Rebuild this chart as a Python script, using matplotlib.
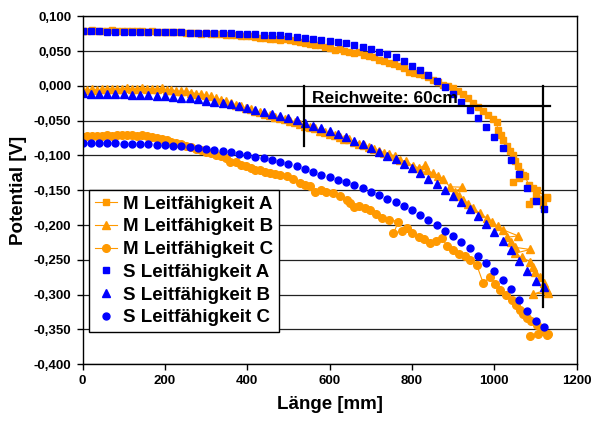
import matplotlib
matplotlib.use("Agg")
import matplotlib.pyplot as plt
from matplotlib.ticker import FuncFormatter, MultipleLocator
import numpy as np

plt.rcParams["font.family"] = ["Liberation Sans", "DejaVu Sans"]
plt.rcParams["font.weight"] = "bold"

ORANGE = "#FF9900"
BLUE = "#0000FF"

# simulation (S): regular 20 mm steps
s_x = np.arange(0, 1121, 20)
s_a = [0.0785, 0.0785, 0.0785, 0.0780, 0.0780, 0.0780, 0.0780, 0.0775, 0.0775, 0.0775,
       0.0770, 0.0770, 0.0770, 0.0765, 0.0765, 0.0760, 0.0760, 0.0755, 0.0755, 0.0750,
       0.0745, 0.0740, 0.0735, 0.0730, 0.0725, 0.0715, 0.0705, 0.0695, 0.0680, 0.0665,
       0.0650, 0.0630, 0.0610, 0.0585, 0.0555, 0.0525, 0.0490, 0.0455, 0.0410, 0.0355,
       0.0290, 0.0230, 0.0155, 0.0070, -0.0010, -0.0110, -0.0225, -0.0340, -0.0455, -0.0590,
       -0.0735, -0.0895, -0.1070, -0.1270, -0.1470, -0.1660, -0.1770]
s_b = [-0.0105, -0.0110, -0.0110, -0.0115, -0.0120, -0.0120, -0.0125, -0.0130, -0.0135, -0.0140,
       -0.0150, -0.0160, -0.0170, -0.0180, -0.0195, -0.0210, -0.0225, -0.0245, -0.0265, -0.0290,
       -0.0315, -0.0340, -0.0370, -0.0400, -0.0430, -0.0460, -0.0490, -0.0530, -0.0570, -0.0610,
       -0.0655, -0.0695, -0.0740, -0.0785, -0.0830, -0.0890, -0.0945, -0.1003, -0.1055, -0.1122,
       -0.1184, -0.1256, -0.1333, -0.1410, -0.1496, -0.1582, -0.1673, -0.1773, -0.1870, -0.1984,
       -0.2104, -0.2224, -0.2358, -0.2511, -0.2655, -0.2799, -0.2894]
s_c = [-0.0816, -0.0817, -0.0819, -0.0821, -0.0824, -0.0828, -0.0832, -0.0837, -0.0842, -0.0848,
       -0.0855, -0.0862, -0.0870, -0.0880, -0.0892, -0.0905, -0.0920, -0.0937, -0.0955, -0.0975,
       -0.0995, -0.1015, -0.1035, -0.1060, -0.1090, -0.1120, -0.1155, -0.1200, -0.1238, -0.1275,
       -0.1312, -0.1350, -0.1385, -0.1425, -0.1470, -0.1520, -0.1570, -0.1620, -0.1673, -0.1726,
       -0.1790, -0.1855, -0.1927, -0.2003, -0.2080, -0.2157, -0.2243, -0.2334, -0.2440, -0.2549,
       -0.2660, -0.2785, -0.2918, -0.3076, -0.3230, -0.3374, -0.3468]

# measurement (M)
m_a_x = [0, 12, 24, 36, 48, 60, 72, 84, 96, 108, 120, 132, 144, 156, 168, 180, 192, 204, 216, 228,
         240, 252, 264, 276, 288, 300, 312, 324, 336, 348, 360, 372, 384, 396, 408, 420, 432, 444,
         456, 468, 480, 492, 504, 516, 528, 540, 552, 564, 576, 588, 600, 612, 624, 636, 648, 660,
         672, 684, 696, 708, 720, 732, 744, 756, 768, 780, 792, 804, 816, 828, 840, 852, 864, 876,
         888, 900, 912, 924, 936, 948, 960, 972, 984, 996, 1006, 1008, 1016, 1022, 1030, 1038, 1046,
         1050, 1058, 1062, 1070, 1046, 1060, 1075, 1083, 1094, 1103, 1127, 1100, 1083, 1095, 1111,
         1119, 1127]
m_a_y = [0.0795, 0.0790, 0.0800, 0.0785, 0.0795, 0.0790, 0.0800, 0.0790, 0.0785, 0.0795,
         0.0790, 0.0785, 0.0790, 0.0780, 0.0785, 0.0780, 0.0775, 0.0780, 0.0770, 0.0775,
         0.0770, 0.0760, 0.0765, 0.0760, 0.0750, 0.0755, 0.0745, 0.0740, 0.0745, 0.0735,
         0.0730, 0.0725, 0.0720, 0.0710, 0.0715, 0.0700, 0.0695, 0.0690, 0.0680, 0.0675,
         0.0665, 0.0670, 0.0660, 0.0640, 0.0630, 0.0615, 0.0600, 0.0585, 0.0590, 0.0560,
         0.0545, 0.0520, 0.0530, 0.0505, 0.0490, 0.0470, 0.0480, 0.0450, 0.0430, 0.0410,
         0.0375, 0.0360, 0.0330, 0.0320, 0.0290, 0.0250, 0.0200, 0.0190, 0.0175, 0.0150,
         0.0130, 0.0090, 0.0050, 0.0020, 0.0000, -0.0035, -0.0070, -0.0110, -0.0180, -0.0240,
         -0.0300, -0.0360, -0.0420, -0.0480, -0.0515, -0.0635, -0.0700, -0.0780, -0.0860, -0.0940,
         -0.0995, -0.1080, -0.1150, -0.1230, -0.1280, -0.1380, -0.1330, -0.1300, -0.1420, -0.1460,
         -0.1500, -0.1600, -0.1570, -0.1690, -0.1650, -0.1640, -0.1710, -0.1615]

m_b_x = [0, 12, 24, 36, 48, 60, 72, 84, 96, 108, 120, 132, 144, 156, 168, 180, 192, 204, 216, 228,
         240, 252, 264, 276, 288, 300, 312, 324, 336, 348, 360, 372, 384, 396, 408, 420, 432, 444,
         456, 468, 480, 492, 504, 516, 528, 540, 552, 564, 576, 588, 600, 612, 624, 636, 648, 660,
         672, 684, 696, 708, 720, 732, 744, 759, 771, 785, 803, 818, 832, 836, 852, 864, 876, 892,
         921, 905, 915, 925, 937, 949, 965, 982, 995, 1008, 1022, 1058, 1030, 1040, 1050, 1087,
         1050, 1066, 1087, 1095, 1099, 1111, 1120, 1127, 1095, 1131]
m_b_y = [-0.0060, -0.0055, -0.0050, -0.0060, -0.0045, -0.0050, -0.0040, -0.0050, -0.0045, -0.0030,
         -0.0050, -0.0040, -0.0025, -0.0045, -0.0040, -0.0050, -0.0035, -0.0055, -0.0060, -0.0070,
         -0.0080, -0.0075, -0.0095, -0.0110, -0.0120, -0.0135, -0.0150, -0.0175, -0.0200, -0.0215,
         -0.0250, -0.0270, -0.0290, -0.0320, -0.0335, -0.0355, -0.0380, -0.0400, -0.0420, -0.0445,
         -0.0465, -0.0480, -0.0505, -0.0525, -0.0545, -0.0570, -0.0595, -0.0610, -0.0645, -0.0660,
         -0.0690, -0.0710, -0.0730, -0.0760, -0.0770, -0.0800, -0.0830, -0.0845, -0.0880, -0.0905,
         -0.0930, -0.0960, -0.0985, -0.1005, -0.1065, -0.1085, -0.1150, -0.1180, -0.1135, -0.1210,
         -0.1255, -0.1290, -0.1340, -0.1450, -0.1455, -0.1520, -0.1580, -0.1640, -0.1700, -0.1760,
         -0.1830, -0.1900, -0.1960, -0.2020, -0.2070, -0.2155, -0.2175, -0.2250, -0.2320, -0.2350,
         -0.2405, -0.2465, -0.2525, -0.2600, -0.2670, -0.2740, -0.2830, -0.2930, -0.2990, -0.2970]

m_c_x = [0, 12, 24, 36, 48, 60, 72, 84, 96, 108, 120, 132, 144, 156, 168, 180, 192, 204, 216, 228,
         240, 252, 264, 276, 288, 300, 312, 324, 336, 348, 358, 372, 384, 396, 408, 420, 432, 444,
         456, 468, 480, 496, 510, 528, 540, 552, 565, 578, 592, 609, 625, 642, 650, 658, 672, 686,
         698, 712, 727, 745, 767, 755, 775, 787, 800, 816, 830, 844, 858, 872, 886, 900, 915, 928,
         941, 957, 973, 990, 1002, 1014, 1028, 1042, 1052, 1062, 1070, 1079, 1090, 1103, 1115, 1127,
         1087, 1105, 1130]
m_c_y = [-0.0730, -0.0725, -0.0720, -0.0725, -0.0715, -0.0710, -0.0720, -0.0705, -0.0710, -0.0700,
         -0.0705, -0.0715, -0.0710, -0.0725, -0.0730, -0.0745, -0.0760, -0.0775, -0.0800, -0.0815,
         -0.0840, -0.0860, -0.0880, -0.0900, -0.0920, -0.0945, -0.0960, -0.0990, -0.1005, -0.1040,
         -0.1090, -0.1100, -0.1130, -0.1150, -0.1180, -0.1210, -0.1215, -0.1240, -0.1250, -0.1270,
         -0.1275, -0.1290, -0.1340, -0.1400, -0.1420, -0.1445, -0.1520, -0.1500, -0.1530, -0.1545,
         -0.1580, -0.1640, -0.1680, -0.1740, -0.1720, -0.1760, -0.1780, -0.1840, -0.1900, -0.1920,
         -0.1950, -0.2120, -0.2080, -0.2045, -0.2110, -0.2165, -0.2200, -0.2260, -0.2230, -0.2190,
         -0.2300, -0.2360, -0.2410, -0.2450, -0.2500, -0.2570, -0.2835, -0.2740, -0.2850, -0.2930,
         -0.3000, -0.3075, -0.3150, -0.3220, -0.3280, -0.3340, -0.3380, -0.3435, -0.3500, -0.3580,
         -0.3600, -0.3560, -0.3570]

labels = ["M Leitfähigkeit A", "M Leitfähigkeit B", "M Leitfähigkeit C",
          "S Leitfähigkeit A", "S Leitfähigkeit B", "S Leitfähigkeit C"]

# range marker (mm / V)
range_text = "Reichweite: 60cm"
range_left_x, range_right_x = 538, 1118
range_y = -0.0284


def comma_fmt(v, pos):
    return f"{v:.3f}".replace(".", ",")


fig = plt.figure(figsize=(5.92, 4.21), dpi=100)
ax = fig.add_axes([0.1394, 0.1347, 0.8348, 0.8266])

ax.yaxis.grid(True, color="#222222", lw=0.9)
ax.set_axisbelow(True)

ax.plot(m_a_x, m_a_y, color=ORANGE, lw=0.8, marker="s", ms=5, mec=ORANGE, label=labels[0])
ax.plot(m_b_x, m_b_y, color=ORANGE, lw=0.8, marker="^", ms=5.5, mec=ORANGE, label=labels[1])
ax.plot(m_c_x, m_c_y, color=ORANGE, lw=0.8, marker="o", ms=5.5, mec=ORANGE, label=labels[2])
ax.plot(s_x, s_a, ls="none", color=BLUE, marker="s", ms=4.5, label=labels[3])
ax.plot(s_x, s_b, ls="none", color=BLUE, marker="^", ms=5.5, label=labels[4])
ax.plot(s_x, s_c, ls="none", color=BLUE, marker="o", ms=5, label=labels[5])

# Reichweite annotation
ax.plot([range_left_x, range_left_x], [0.0, -0.087], color="black", lw=1.6, zorder=5)
ax.plot([range_right_x, range_right_x], [0.0, -0.317], color="black", lw=1.6, zorder=5)
ax.plot([500, 1135], [range_y, range_y], color="black", lw=1.6, zorder=5)
ax.text(556, -0.0245, range_text, fontsize=12.5, fontweight="bold", va="baseline", zorder=6)

ax.set_xlim(0, 1200)
ax.set_ylim(-0.4, 0.1)
ax.xaxis.set_major_locator(MultipleLocator(200))
ax.yaxis.set_major_locator(MultipleLocator(0.05))
ax.yaxis.set_major_formatter(FuncFormatter(comma_fmt))
ax.tick_params(direction="out", length=4, width=1, labelsize=9.5, pad=4)
for s in ax.spines.values():
    s.set_linewidth(1)

ax.set_xlabel("Länge [mm]", fontsize=13.5, fontweight="bold", labelpad=6)
ax.set_ylabel("Potential [V]", fontsize=13.5, fontweight="bold", labelpad=5)

leg = ax.legend(loc="upper left", bbox_to_anchor=(0.0132, 0.5009), borderaxespad=0,
                fontsize=13.5, fancybox=False, edgecolor="black", framealpha=1,
                labelspacing=0.3, handlelength=1.2, handletextpad=0.3, borderpad=0.3)
leg.get_frame().set_linewidth(1)

fig.savefig("out.png", dpi=100)
